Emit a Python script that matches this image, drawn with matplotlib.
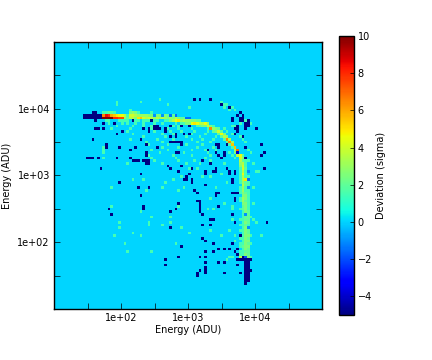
#!/usr/bin/env python3
# 2D residual map: deviation per energy bin, cells
import numpy as np
import matplotlib
matplotlib.use('Agg')
import matplotlib.pyplot as plt

N_BINS = 100
COLOR_LIMITS = (-5, 10)
x_edges = np.logspace(1, 5, N_BINS + 1)
y_edges = np.logspace(1, 5, N_BINS + 1)

# bins at about -5 sigma: (column, row counted from the top)
low_cells = [
    (14, 26), (15, 26), (11, 27), (12, 27), (13, 27), (14, 27), (15, 27), (16, 27), (17, 27),
    (11, 28), (12, 28), (13, 28), (14, 28), (15, 28), (16, 28), (17, 28), (15, 29),
    (18, 30), (22, 30), (15, 32), (16, 32), (18, 32), (23, 34), (25, 33), (14, 36),
    (19, 38), (19, 39), (24, 39), (28, 40), (30, 39), (32, 36), (34, 38), (34, 41), (34, 42),
    (38, 39), (12, 43), (13, 43), (14, 43), (16, 43), (23, 43), (28, 43), (29, 44), (30, 44), (31, 44),
    (33, 44), (34, 44), (35, 44), (34, 45), (35, 45), (17, 47), (24, 52), (31, 54), (35, 54), (32, 49),
    (29, 29), (33, 32), (36, 29), (37, 31), (38, 31), (37, 32), (38, 32), (39, 32), (41, 32), (41, 33),
    (35, 32), (35, 33), (43, 31), (47, 31), (50, 31), (45, 34), (45, 35), (48, 34), (50, 34), (43, 35),
    (43, 37), (44, 37), (45, 37), (46, 37), (47, 37), (47, 38), (45, 41), (46, 41),
    (42, 46), (43, 47), (46, 48), (47, 46), (49, 50), (48, 51), (49, 51), (50, 49), (51, 52), (51, 51),
    (52, 21), (54, 21), (58, 21), (52, 55), (51, 47), (62, 23), (65, 24), (69, 26), (68, 27), (70, 27),
    (66, 28), (69, 28), (70, 28), (66, 29), (69, 29), (70, 29), (72, 29), (71, 30), (72, 30), (71, 31),
    (72, 31), (71, 32), (68, 31), (67, 32), (68, 32), (68, 33), (75, 32), (70, 35), (77, 38), (71, 39),
    (78, 41), (77, 42), (71, 43), (78, 47), (64, 47), (65, 48), (65, 49), (67, 48), (67, 49), (66, 51), (66, 52),
    (60, 38), (61, 38), (61, 39), (60, 41), (61, 42), (62, 43), (63, 41), (63, 42), (64, 38), (67, 34),
    (55, 44), (58, 45), (56, 48), (56, 49), (60, 47), (60, 48), (59, 48), (56, 53), (57, 40),
    (53, 56), (53, 59), (54, 59), (54, 60), (54, 61), (54, 62), (54, 63), (55, 64), (61, 61), (46, 60),
    (45, 62), (43, 63), (43, 69), (60, 56), (61, 56), (60, 57), (66, 56), (67, 56), (68, 56), (67, 58), (67, 59),
    (58, 66), (59, 66), (66, 64), (67, 67), (55, 68), (58, 68), (69, 72), (55, 73), (56, 74), (59, 75),
    (66, 75), (68, 77), (61, 77), (63, 77), (65, 77), (47, 76), (56, 78), (59, 78), (67, 78), (68, 79),
    (46, 80), (54, 80), (56, 80), (70, 80), (56, 82), (61, 82), (63, 82), (68, 83), (79, 67), (54, 85),
    (56, 84), (56, 85), (56, 86), (53, 86), (53, 87), (63, 86), (69, 86), (73, 85),
    (32, 57), (33, 61), (33, 62), (20, 62), (21, 64), (41, 81), (41, 83),
    (68, 81), (69, 81), (70, 81), (71, 81), (72, 81), (73, 81),
    (71, 82), (72, 82), (71, 83), (72, 83), (71, 84), (72, 84), (71, 85), (72, 85), (71, 86), (72, 86),
    (71, 87), (72, 87), (71, 88), (72, 88), (71, 89), (72, 89), (71, 90),
]

# bins at about +1.5 sigma scattered round the curve: row -> columns
scatter_rows = [21, 22, 23, 24, 25, 29, 30, 31, 32, 33, 34, 35, 36, 37, 38, 39, 40, 41, 42, 43, 44, 45]
scatter_cols = [
    [39], [23, 32, 62], [23, 42, 63, 64], [50, 63, 66], [28, 65, 67],
    [19, 20, 24, 25, 26, 27, 30, 31, 33, 34, 35, 37, 38, 41, 42, 71, 72],
    [20, 25, 27, 30, 33, 37, 40, 45, 48, 69, 73],
    [23, 29, 33, 36, 44, 46, 66, 67],
    [21, 28, 36, 42, 46, 51, 60, 63],
    [27, 37, 43, 47, 52, 57, 64],
    [29, 40, 44, 51, 56, 66],
    [33, 41, 49, 54, 60, 69],
    [28, 38, 44, 51, 55, 59, 70],
    [34, 40, 53, 58, 71],
    [35, 42, 49, 55, 65],
    [18, 40, 46, 53, 59, 66],
    [18, 36, 42, 51, 56, 60, 72],
    [18, 39, 48, 57, 65, 73],
    [35, 44, 51, 58, 66],
    [18, 36, 45, 56, 62, 67],
    [37, 46, 52, 58, 72],
    [27, 40, 49, 54, 63, 74],
]
sparse_cells = [
    (21, 54), (29, 51), (33, 51), (34, 55), (40, 54), (41, 52), (44, 51), (46, 55), (21, 61), (32, 63),
    (46, 61), (36, 65), (35, 67), (35, 68), (40, 68), (43, 67), (43, 65), (24, 67), (24, 69), (29, 71),
    (22, 72), (32, 72), (26, 75), (45, 75), (27, 78), (36, 78), (50, 47), (47, 50), (53, 47), (58, 50),
    (62, 49), (64, 52), (60, 54), (58, 58), (63, 60), (57, 62), (59, 62), (66, 61), (66, 62), (66, 66),
    (58, 70), (62, 72), (65, 70), (50, 71), (48, 54), (55, 50), (47, 69), (67, 72), (67, 74), (66, 80),
    (75, 48), (76, 48), (74, 54), (74, 60), (74, 66), (75, 67), (77, 72), (73, 72), (64, 81), (65, 80),
]

# bright curve along the top: column, row, deviation
curve_cols = [18, 18, 18, 19, 19, 19, 20, 20, 20, 21, 21, 21, 22, 22, 22, 23, 23, 24, 24, 25, 25, 26, 26,
              27, 27, 28, 28, 28, 29, 29, 29, 30, 30, 30, 31, 31, 31, 32, 32, 33, 33, 34, 34, 35, 35,
              36, 36, 36, 37, 37, 38, 38, 39, 39, 40, 40, 41, 41, 42, 42, 43, 43, 43, 44, 44, 44, 45, 45, 45,
              46, 46, 47, 47, 47, 48, 48, 48, 49, 49, 49, 50, 50, 50, 51, 51, 52, 52, 53, 53, 53, 54, 54, 54,
              55, 55, 56, 56, 57, 57, 57, 58, 58, 59, 59, 59, 60, 60, 61, 61, 61, 62, 62, 62, 63, 63, 63,
              64, 64, 64, 65, 65, 65, 66, 66, 66, 67, 67, 67, 68, 68, 68]
curve_rows = [26, 27, 28, 26, 27, 28, 26, 27, 28, 26, 27, 28, 26, 27, 28, 27, 28, 27, 28, 27, 28, 27, 28,
              27, 28, 26, 27, 28, 26, 27, 28, 26, 27, 28, 26, 27, 28, 27, 28, 27, 28, 27, 28, 27, 28,
              26, 27, 28, 27, 28, 27, 28, 27, 28, 27, 28, 27, 28, 27, 28, 27, 28, 29, 27, 28, 29, 27, 28, 29,
              28, 29, 28, 29, 30, 28, 29, 30, 28, 29, 30, 28, 29, 30, 29, 30, 29, 30, 29, 30, 31, 29, 30, 31,
              30, 31, 30, 31, 30, 31, 32, 31, 32, 31, 32, 33, 32, 33, 32, 33, 34, 33, 34, 35, 34, 35, 36,
              35, 36, 37, 36, 37, 38, 37, 38, 39, 39, 40, 41, 40, 41, 42]
curve_vals = [1.5, 6.5, 10, 1.5, 8.5, 10, 2, 8, 10, 2, 6, 10, 1.5, 5.5, 8, 5, 8, 4.5, 7.5, 4.5, 7.5, 3.5, 3,
              1.5, 2, 2.5, 4, 3.5, 3, 4, 3.5, 2.5, 3.5, 2.5, 1.5, 3, 5, 3, 5.5, 3, 4, 3, 3.5, 2.5, 4,
              1.5, 2.5, 3.5, -1, 3, 2.5, 3.5, 2.5, 3, -1, 3.5, 2.5, 3, 2, 2.5, -1.5, 3, 2.5, 2, 2.5, 3.5, -1.5, 3.5, 4.5,
              2.5, 5, 2, 3, 1.5, 2, 3.5, 1.5, -1.5, 3, 2.5, -1.5, 3, 2.5, 2.5, 4.5, 2.5, 5, 2, 4.5, 1.5, 2, 3.5, 2,
              3.5, 2.5, 4.5, 2.5, 3, 4, 1.5, 2.5, 6.5, 1.5, 3, 2, 2.5, 2.5, 2, 4, 2, 2, 4.5, 2, 2.5, 3.5, 2,
              3, 6.5, 2, 3.5, 6.5, 1.5, 3, 5.5, 1.5, 5.5, 3, 2.5, 7, -4, 3.5]

# falling part of the curve: rows by columns 69-73
fall_rows = list(range(42, 81))
fall_vals = [
    [4.5, 2, 0, 0, 0], [4, 2.5, 0, 0, 0], [3.5, 2, 1.5, 0, 0], [3, 3.5, 1.5, 0, 0], [2.5, 4, 1.5, 0, 0],
    [1.5, 4, 2, 0, 0], [1.5, 3.5, 1.5, -1, 0], [1.5, 4.5, 1.5, 0, 0], [1.5, 3.5, 1.5, 1.5, 0], [1.5, 3.5, 5, -1.5, 0],
    [1.5, 3, 2, 1.5, 0], [0, 3.5, 2, 1.5, 0], [1.5, 3, 1.5, -1, 0], [1.5, 3, 1.5, 1.5, 0], [1.5, 2.5, 2, 1.5, 0],
    [0, 2.5, 2.5, 1.5, 0], [1.5, 3, 2.5, 1.5, 0], [1.5, 3, 2, 1.5, 0], [0, 2.5, 2.5, 1.5, 0], [0, 2, 2.5, 1.5, 0],
    [1.5, 2, 2.5, 1.5, 0], [0, 1.5, 2.5, 2, 0], [0, 1.5, -1, 2, 0], [0, 1.5, 2, 2, 1.5], [1.5, 1.5, 2, 2, 0],
    [0, 1.5, 2.5, 2, 0], [1.5, 1.5, 2, 1.5, 0], [0, 1.5, 2.5, -1, 0], [1.5, 1.5, 2.5, 2, 0], [0, 1.5, 2.5, 2, 0],
    [0, 1.5, 2.5, 2.5, 0], [1.5, 1.5, 2.5, 2, 0], [0, 1.5, 2.5, 2.5, 0], [1.5, 1.5, 2.5, 2, 1.5], [1.5, 2, 2.5, 2.5, 0],
    [0, 1.5, 2.5, 2, 0], [1.5, 1.5, 2, 2, 0], [1.5, 1.5, 2.5, 2, 0], [3.5, 1.5, -2, 2.5, 1.5],
]
fall_first_col = 69

x_major = [10 ** 1.5, 1e2, 10 ** 2.5, 1e3, 10 ** 3.5, 1e4, 10 ** 4.5]
x_major_labels = ['', '1e+02', '', '1e+03', '', '1e+04', '']
cbar_ticks = [-4, -2, 0, 2, 4, 6, 8, 10]

# put the cells into the image, row 0 is the top one here
grid = np.zeros((N_BINS, N_BINS))
for row, cols in zip(scatter_rows, scatter_cols):
    for col in cols:
        grid[row, col] = 1.5
for col, row in sparse_cells:
    grid[row, col] = 1.5
for col, row, val in zip(curve_cols, curve_rows, curve_vals):
    grid[row, col] = val
for row, vals in zip(fall_rows, fall_vals):
    for i, val in enumerate(vals):
        if val != 0:
            grid[row, fall_first_col + i] = val
for col, row in low_cells:
    grid[row, col] = -5
grid = grid[::-1]

fig = plt.figure(figsize=(4.32, 3.6), dpi=100)
ax = fig.add_axes([54 / 432, 1 - 309 / 360, 268 / 432, 267 / 360])
mesh = ax.pcolormesh(x_edges, y_edges, grid, cmap='jet',
                     vmin=COLOR_LIMITS[0], vmax=COLOR_LIMITS[1], linewidth=0, rasterized=True)
ax.set_xscale('log')
ax.set_yscale('log')
ax.set_xlim(x_edges[0], x_edges[-1])
ax.set_ylim(y_edges[0], y_edges[-1])
ax.set_xticks(x_major)
ax.set_xticklabels(x_major_labels)
ax.set_yticks(x_major)
ax.set_yticklabels(x_major_labels)
ax.minorticks_off()
ax.tick_params(direction='in', top=True, right=True, length=4, width=0.5, labelsize=7, pad=3)
ax.set_xlabel('Energy (ADU)', fontsize=7, labelpad=1.5)
ax.set_ylabel('Energy (ADU)', fontsize=7, labelpad=3.5)
for spine in ax.spines.values():
    spine.set_linewidth(1.0)

cax = fig.add_axes([339 / 432, 1 - 315 / 360, 14.5 / 432, 279 / 360])
cbar = fig.colorbar(mesh, cax=cax, ticks=cbar_ticks)
cbar.ax.tick_params(direction='in', length=3, width=0.5, labelsize=7, pad=3)
cbar.set_label('Deviation (sigma)', fontsize=7, labelpad=3)
cbar.outline.set_linewidth(1.0)

fig.savefig('out.png', dpi=100)
